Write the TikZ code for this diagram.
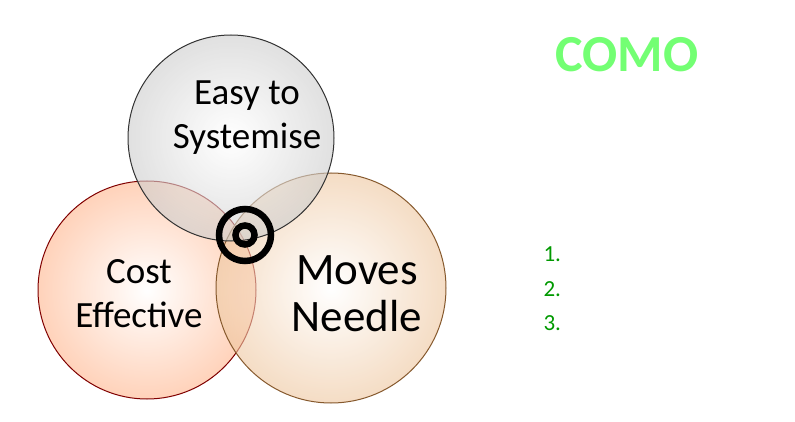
\documentclass[tikz,border=0pt]{standalone}
\usepackage{fontspec}
\setmainfont{Carlito}
\begin{document}
\begin{tikzpicture}[x=1pt,y=-1pt,
  venn/.style={circle,minimum size=#1,line width=1pt,fill opacity=0.6,text opacity=1},
  lbl/.style={align=center,text=black,font=\fontsize{37}{44}\selectfont},
  num/.style={text=green!60!black,font=\fontsize{23}{26}\selectfont,anchor=west}]
\useasboundingbox (0,0) rectangle (795,422);
\node[venn=218pt,draw=red!50!black,inner color=white,outer color=red!30!orange!45] (l) at (147,290) {};
\node[venn=230pt,draw=brown!70!black,inner color=white,outer color=orange!40!brown!45] (r) at (331,288) {};
\node[venn=206pt,draw=black!80,inner color=white,outer color=black!20] (t) at (231,138) {};
\node[lbl] (tt) at (247,118) {Easy to\\Systemise};
\node[lbl] (lt) at (139,294) {Cost\\Effective};
\node[lbl,font=\fontsize{45}{47}\selectfont] (rt) at (357,294) {Moves\\Needle};
\node[circle,draw,line width=6.5pt,minimum size=52pt] (o) at (245,235) {};
\node[circle,draw,line width=6.5pt,minimum size=19pt] (i) at (245,235) {};
\node[text=green!55,font=\fontsize{52}{56}\bfseries\selectfont] (como) at (627,55) {COMO};
\node[num] (n1) at (540,254) {1.};
\node[num] (n2) at (540,289) {2.};
\node[num] (n3) at (540,323) {3.};
\end{tikzpicture}
\end{document}
